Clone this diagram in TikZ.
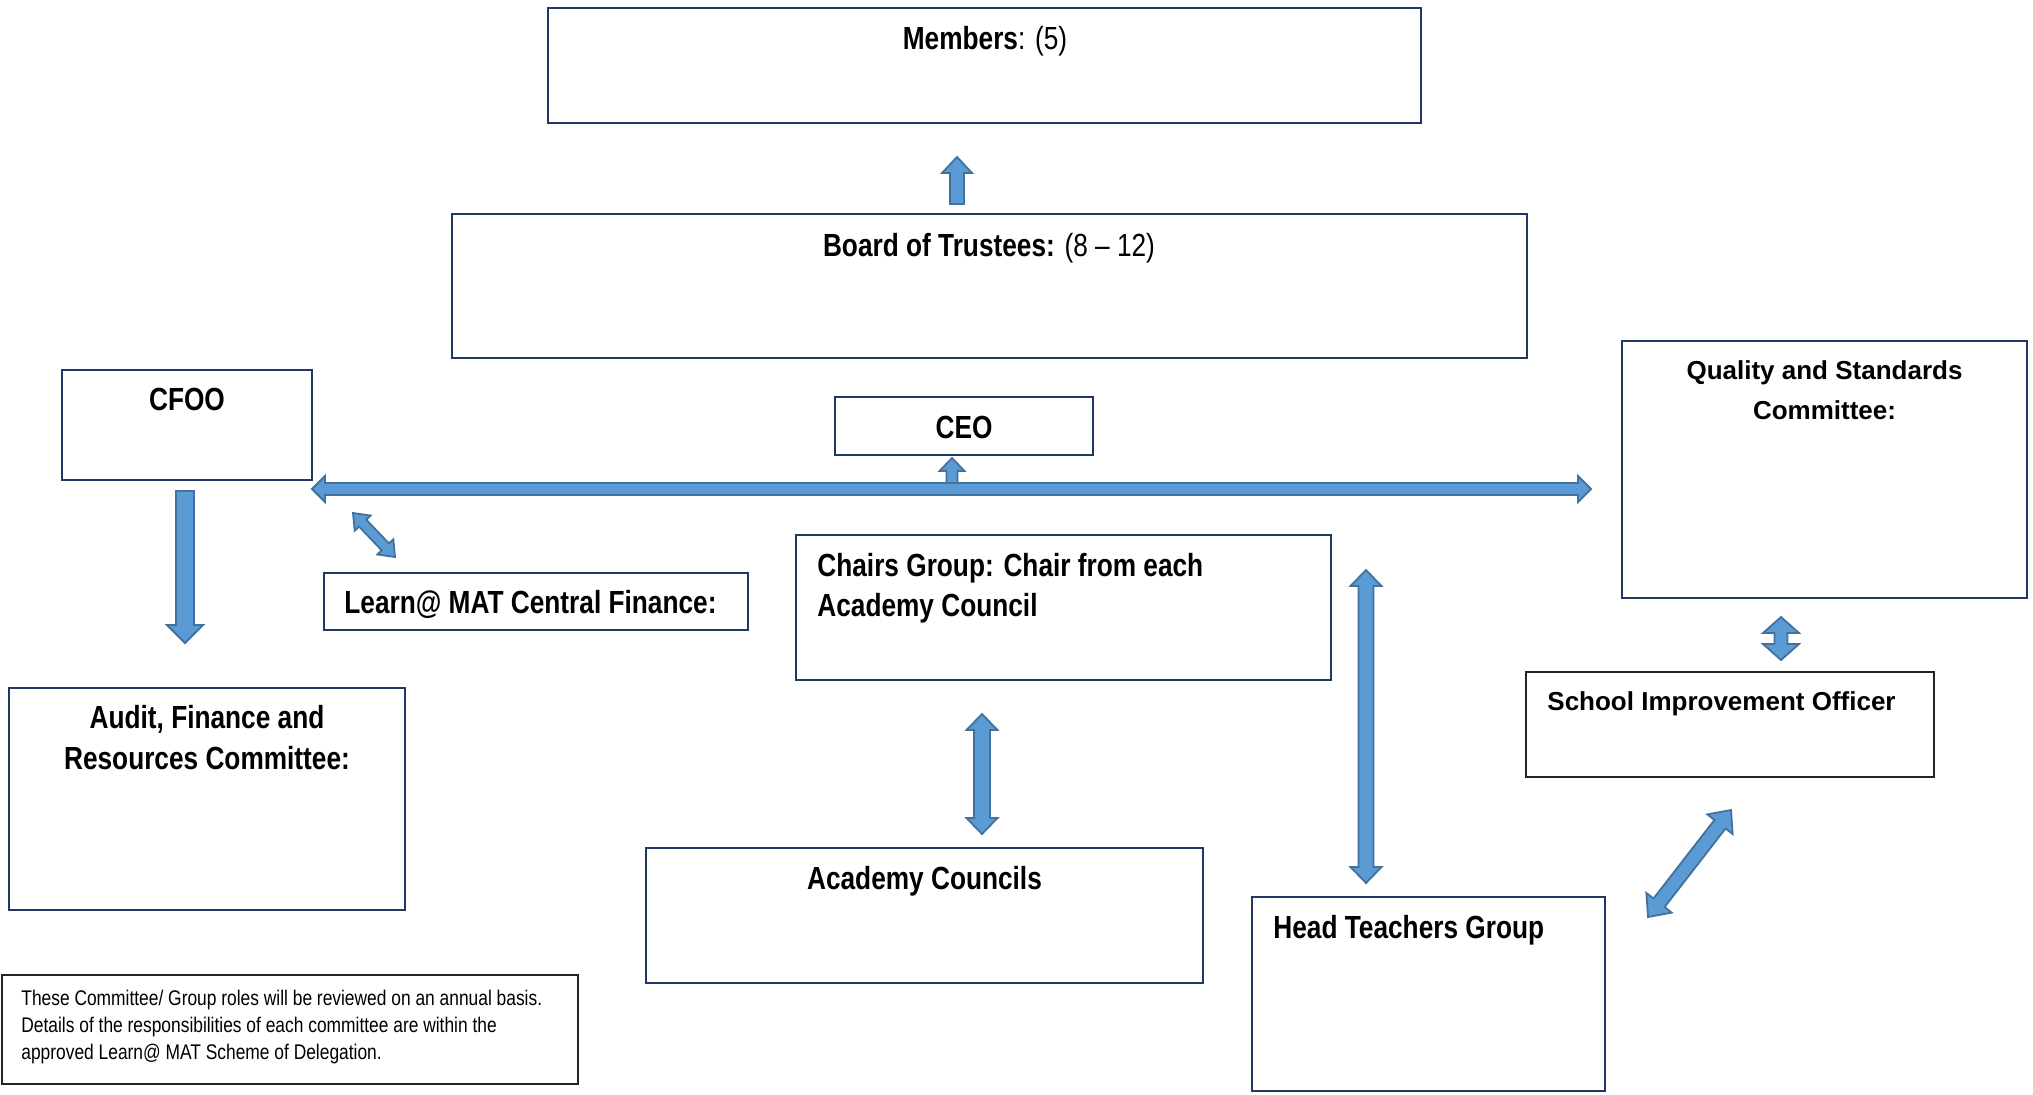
\documentclass[tikz,border=0pt]{standalone}
\usepackage{fontspec}
\setmainfont{Liberation Sans}
\newfontfamily\narrowfont{Liberation Sans}[FakeStretch=0.82]
\usetikzlibrary{calc,fit}
\definecolor{navy}{RGB}{31,56,100}
\definecolor{afill}{RGB}{91,155,213}
\definecolor{aline}{RGB}{65,113,156}
\definecolor{dk}{RGB}{35,35,35}

% double block arrow: from, to, shaft half width, head half width, head length
\newcommand{\dblarrow}[5]{%
  \coordinate (tmpA) at ($(#1)!#5!(#2)$);
  \coordinate (tmpB) at ($(#2)!#5!(#1)$);
  \filldraw[blockarrow] (#1) -- ($(tmpA)!#4!90:(#2)$) -- ($(tmpA)!#3!90:(#2)$)
    -- ($(tmpB)!#3!-90:(#1)$) -- ($(tmpB)!#4!-90:(#1)$) -- (#2)
    -- ($(tmpB)!#4!90:(#1)$) -- ($(tmpB)!#3!90:(#1)$)
    -- ($(tmpA)!#3!-90:(#2)$) -- ($(tmpA)!#4!-90:(#2)$) -- cycle;}
% single block arrow: tail, tip, shaft half width, head half width, head length
\newcommand{\sglarrow}[5]{%
  \coordinate (tmpB) at ($(#2)!#5!(#1)$);
  \filldraw[blockarrow] ($(#1)!#3!-90:(#2)$) -- ($(tmpB)!#3!90:(#1)$)
    -- ($(tmpB)!#4!90:(#1)$) -- (#2) -- ($(tmpB)!#4!-90:(#1)$)
    -- ($(tmpB)!#3!-90:(#1)$) -- ($(#1)!#3!90:(#2)$) -- cycle;}

\begin{document}
\begin{tikzpicture}[x=0.5pt,y=-0.5pt,
  box/.style={draw=navy, line width=1pt, inner sep=0pt},
  boxk/.style={draw=dk, line width=1pt, inner sep=0pt},
  tn/.style={inner sep=0pt, font=\narrowfont\fontsize{16}{20}\selectfont},
  ta/.style={inner sep=0pt, font=\bfseries\fontsize{13}{20}\selectfont},
  tnote/.style={inner sep=0pt, align=left, font=\narrowfont\fontsize{10.6}{13.5}\selectfont},
  blockarrow/.style={fill=afill, draw=aline, line width=0.9pt, line join=miter}]
\fill[white] (0,0) rectangle (2033,1094);
\useasboundingbox (0,0) rectangle (2033,1094);

% boxes
\node[box, fit={(548,8) (1421,123)}] (members) {};
\node[box, fit={(452,214) (1527,358)}] (board) {};
\node[box, fit={(62,370) (312,480)}] (cfoo) {};
\node[box, fit={(835,397) (1093,455)}] (ceo) {};
\node[box, fit={(1622,341) (2027,598)}] (quality) {};
\node[box, fit={(324,573) (748,630)}] (learn) {};
\node[box, fit={(796,535) (1331,680)}] (chairs) {};
\node[boxk, fit={(1526,672) (1934,777)}] (sio) {};
\node[box, fit={(9,688) (405,910)}] (audit) {};
\node[box, fit={(646,848) (1203,983)}] (academy) {};
\node[box, fit={(1252,897) (1605,1091)}] (head) {};
\node[boxk, fit={(2,975) (578,1084)}] (note) {};

% texts (multi-line nodes: base = baseline of last line)
\node[tn, anchor=base] (members-t) at (985,49) {\textbf{Members}: (5)};
\node[tn, anchor=base] (board-t) at (989,256) {\textbf{Board of Trustees:} (8 – 12)};
\node[tn, anchor=base] (cfoo-t) at (187,410) {\textbf{CFOO}};
\node[tn, anchor=base] (ceo-t) at (964,438) {\textbf{CEO}};
\node[ta, anchor=base, align=center] (quality-t) at (1824.5,419) {Quality and Standards\\Committee:};
\node[tn, anchor=base west] (learn-t) at (344,613) {\textbf{Learn@ MAT Central Finance:}};
\node[tn, anchor=base west, align=left] (chairs-t) at (817,616) {\textbf{Chairs Group: Chair from each}\\\textbf{Academy Council}};
\node[ta, anchor=base west] (sio-t) at (1547,710.5) {School Improvement Officer};
\node[tn, anchor=base, align=center, font=\narrowfont\fontsize{16}{20.5}\selectfont] (audit-t) at (207,769) {\textbf{Audit, Finance and}\\\textbf{Resources Committee:}};
\node[tn, anchor=base] (academy-t) at (924.5,889) {\textbf{Academy Councils}};
\node[tn, anchor=base west] (head-t) at (1273,938) {\textbf{Head Teachers Group}};
\node[tnote, anchor=base west] (note-t) at (21,1059) {These Committee/ Group roles will be reviewed on an annual basis.\\Details of the responsibilities of each committee are within the\\approved Learn@ MAT Scheme of Delegation.};

% arrow end points
\coordinate (a1s) at (957,204);  \coordinate (a1e) at (957,157);
\coordinate (a2s) at (312,489);  \coordinate (a2e) at (1591,489);
\coordinate (a3s) at (952,489);  \coordinate (a3e) at (952,458);
\coordinate (a4s) at (185,491);  \coordinate (a4e) at (185,643);
\coordinate (a5s) at (353,513);  \coordinate (a5e) at (395,557);
\coordinate (a6s) at (982,714);  \coordinate (a6e) at (982,834);
\coordinate (a7s) at (1366,570); \coordinate (a7e) at (1366,883);
\coordinate (a8s) at (1781,617); \coordinate (a8e) at (1781,660);
\coordinate (a9s) at (1731,810); \coordinate (a9e) at (1648,917);

\sglarrow{a1s}{a1e}{3.5pt}{7.5pt}{8pt}
\sglarrow{a3s}{a3e}{2.75pt}{6.25pt}{6.5pt}
\dblarrow{a2s}{a2e}{3pt}{6.5pt}{6.5pt}
\sglarrow{a4s}{a4e}{4.5pt}{9pt}{9pt}
\dblarrow{a5s}{a5e}{2.5pt}{5.5pt}{7pt}
\dblarrow{a6s}{a6e}{4pt}{7.75pt}{8pt}
\dblarrow{a7s}{a7e}{3.75pt}{7.75pt}{8pt}
\dblarrow{a8s}{a8e}{3.25pt}{9pt}{8pt}
\dblarrow{a9s}{a9e}{3.5pt}{8pt}{9pt}
\end{tikzpicture}
\end{document}
